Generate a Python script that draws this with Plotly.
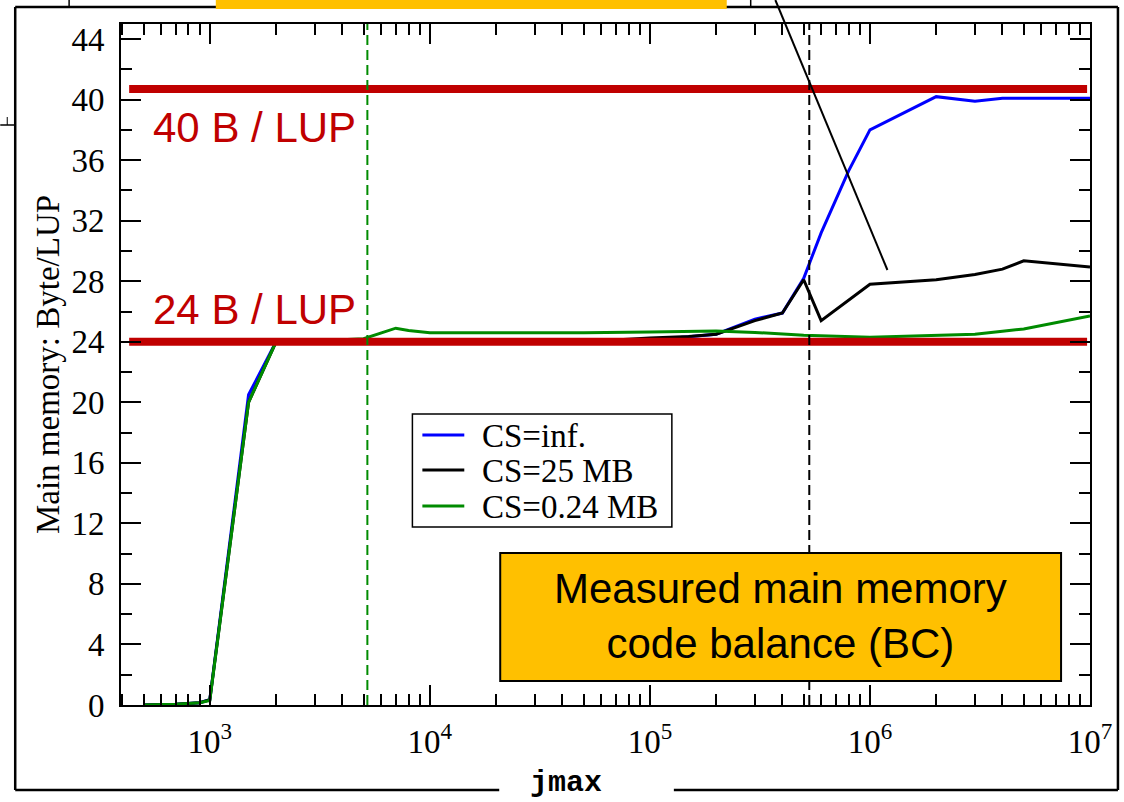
import plotly.graph_objects as go

# ---------------- data ----------------
jmax_inf = [500, 700, 900, 1000, 1500, 2000, 3000, 5000, 7000, 10000, 20000, 50000,
            100000, 200000, 300000, 400000, 500000, 600000, 800000, 1000000,
            2000000, 3000000, 4000000, 5000000, 10000000]
bc_inf = [0.0, 0.05, 0.15, 0.35, 20.5, 24.0, 24.0, 24.0, 24.0, 24.0, 24.0, 24.0,
          24.1, 24.5, 25.5, 25.9, 28.2, 31.2, 35.3, 38.0,
          40.2, 39.9, 40.1, 40.1, 40.1]

jmax_25 = [500, 700, 900, 1000, 1500, 2000, 3000, 5000, 7000, 10000, 20000, 50000,
           100000, 150000, 200000, 300000, 400000, 500000, 600000, 1000000,
           2000000, 3000000, 4000000, 5000000, 10000000]
bc_25 = [0.0, 0.05, 0.15, 0.35, 20.0, 24.0, 24.0, 24.0, 24.0, 24.0, 24.0, 24.0,
         24.25, 24.35, 24.5, 25.4, 25.9, 28.1, 25.4, 27.8,
         28.1, 28.45, 28.8, 29.35, 28.95]

jmax_024 = [500, 700, 900, 1000, 1500, 2000, 3000, 5000, 7000, 8000, 10000, 20000,
            50000, 100000, 150000, 200000, 300000, 400000, 500000, 1000000,
            2000000, 3000000, 4000000, 5000000, 10000000]
bc_024 = [0.0, 0.05, 0.15, 0.3, 20.0, 24.0, 24.05, 24.2, 24.9, 24.75, 24.6, 24.6,
          24.6, 24.65, 24.68, 24.72, 24.62, 24.52, 24.43, 24.3,
          24.4, 24.5, 24.7, 24.85, 25.7]

series_names = ["CS=inf.", "CS=25 MB", "CS=0.24 MB"]
series_colors = ["#0000FF", "#000000", "#008B00"]

limit_values = [40.7, 24.0]
limit_labels = ["40 B / LUP", "24 B / LUP"]
limit_span = [430, 9.7e6]

cache_marks = [5.2e3, 5.3e5]
cache_colors = ["#008B00", "#000000"]

x_major = [1e3, 1e4, 1e5, 1e6, 1e7]
x_major_text = ["10<sup>3</sup>", "10<sup>4</sup>", "10<sup>5</sup>", "10<sup>6</sup>", "10<sup>7</sup>"]
x_minor = [m * 10 ** k for k in range(2, 7) for m in range(2, 10) if 395 < m * 10 ** k < 1e7]
y_major = list(range(0, 45, 4))
y_minor = list(range(2, 45, 4))

box_text = "Measured main memory<br>code balance (BC)"

# ---------------- figure ----------------
fig = go.Figure()

for xs, ys, name, col in zip([jmax_inf, jmax_25, jmax_024], [bc_inf, bc_25, bc_024],
                             series_names, series_colors):
    fig.add_trace(go.Scatter(x=xs, y=ys, mode="lines", name=name, showlegend=False,
                             line=dict(color=col, width=3)))

for v in limit_values:
    fig.add_trace(go.Scatter(x=limit_span, y=[v, v], mode="lines", showlegend=False,
                             line=dict(color="#C00000", width=8), hoverinfo="skip"))

for xv, col in zip(cache_marks, cache_colors):
    fig.add_trace(go.Scatter(x=[xv, xv], y=[0, 45], mode="lines", showlegend=False,
                             line=dict(color=col, width=2, dash="10px,5px"), hoverinfo="skip"))

serif = "Liberation Serif, Times New Roman, serif"
sans = "Liberation Sans, Arial, sans-serif"

axis_common = dict(
    showline=True, linewidth=2, linecolor="black", mirror="allticks",
    ticks="inside", ticklen=20, tickwidth=1.5, tickcolor="black",
    showgrid=False, zeroline=False,
    tickfont=dict(family=serif, size=33, color="black"),
)

fig.update_xaxes(type="log", range=[2.5964, 7.0], tickmode="array",
                 tickvals=x_major, ticktext=x_major_text, ticklabelstandoff=6,
                 minor=dict(tickmode="array", tickvals=x_minor, ticks="inside", ticklen=11,
                            tickwidth=1.5, tickcolor="black", showgrid=False),
                 **axis_common)
fig.update_yaxes(range=[0, 45], tickmode="array", tickvals=y_major, ticklabelstandoff=8,
                 minor=dict(tickmode="array", tickvals=y_minor, ticks="inside", ticklen=11,
                            tickwidth=1.5, tickcolor="black", showgrid=False),
                 title=dict(text="Main memory: Byte/LUP", font=dict(family=serif, size=33, color="black"),
                            standoff=2),
                 **axis_common)

def px(xp):
    return (xp - 121) / 971.0

def py(yp):
    return (705 - yp) / 681.0

shapes = []
frame = dict(color="black", width=2.5)
# outer slide frame
shapes.append(dict(type="line", xref="paper", yref="paper", x0=px(15), x1=px(15), y0=py(790), y1=py(7), line=frame))
shapes.append(dict(type="line", xref="paper", yref="paper", x0=px(1120), x1=px(1120), y0=py(790), y1=py(7), line=frame))
shapes.append(dict(type="line", xref="paper", yref="paper", x0=px(15), x1=px(1120), y0=py(7), y1=py(7), line=frame))
shapes.append(dict(type="line", xref="paper", yref="paper", x0=px(15), x1=px(500), y0=py(790), y1=py(790), line=frame))
shapes.append(dict(type="line", xref="paper", yref="paper", x0=px(675), x1=px(1120), y0=py(790), y1=py(790), line=frame))
# small marks on the frame
shapes.append(dict(type="line", xref="paper", yref="paper", x0=px(69), x1=px(69), y0=py(0), y1=py(7), line=dict(color="black", width=1.5)))
shapes.append(dict(type="line", xref="paper", yref="paper", x0=px(752), x1=px(752), y0=py(0), y1=py(7), line=dict(color="black", width=1.5)))
shapes.append(dict(type="line", xref="paper", yref="paper", x0=px(0), x1=px(15), y0=py(125), y1=py(125), line=dict(color="black", width=1.5)))
shapes.append(dict(type="line", xref="paper", yref="paper", x0=px(7), x1=px(7), y0=py(125), y1=py(117), line=dict(color="black", width=1)))
# cut-off orange bar at top
shapes.append(dict(type="rect", xref="paper", yref="paper", x0=px(216), x1=px(728), y0=py(9), y1=py(-4),
                   fillcolor="#FFC000", line=dict(width=0)))
# diagonal pointer line
shapes.append(dict(type="line", xref="paper", yref="paper", x0=px(776.7), y0=py(0), x1=px(889), y1=py(270),
                   line=dict(color="black", width=2)))
# orange annotation box
shapes.append(dict(type="rect", xref="paper", yref="paper", x0=px(501), x1=px(1063), y0=py(681), y1=py(553),
                   fillcolor="#FFC000", line=dict(color="black", width=2)))

annotations = []
for lab, ycen in zip(limit_labels, [128, 309]):
    annotations.append(dict(text=lab, xref="paper", yref="paper", x=px(151), y=py(ycen),
                            xanchor="left", yanchor="middle", showarrow=False,
                            font=dict(family=sans, size=42, color="#C00000")))
annotations.append(dict(text=box_text, xref="paper", yref="paper", x=px(782), y=py(616),
                        xanchor="center", yanchor="middle", showarrow=False, align="center",
                        font=dict(family=sans, size=42, color="black")))
annotations.append(dict(text="jmax", xref="paper", yref="paper", x=px(567), y=py(783),
                        xanchor="center", yanchor="middle", showarrow=False, borderpad=0,
                        font=dict(family="Liberation Mono, Courier New, monospace", size=30,
                                  color="black", weight="bold")))

# legend box (drawn to match the original compact layout)
leg_left, leg_top, leg_right, leg_bottom = 413, 414, 673, 527
leg_rows = [435, 470, 506]
shapes.append(dict(type="rect", xref="paper", yref="paper", x0=px(leg_left), x1=px(leg_right),
                   y0=py(leg_bottom), y1=py(leg_top), fillcolor="white",
                   line=dict(color="black", width=1.5)))
for name, col, yr in zip(series_names, series_colors, leg_rows):
    shapes.append(dict(type="line", xref="paper", yref="paper", x0=px(423), x1=px(465),
                       y0=py(yr), y1=py(yr), line=dict(color=col, width=3)))
    annotations.append(dict(text=name, xref="paper", yref="paper", x=px(481), y=py(yr + 1),
                            xanchor="left", yanchor="middle", showarrow=False,
                            font=dict(family=serif, size=33, color="black")))

fig.update_layout(
    width=1124, height=802,
    margin=dict(l=121, r=32, t=24, b=97),
    plot_bgcolor="white", paper_bgcolor="white",
    shapes=shapes, annotations=annotations,
    showlegend=False,
)

fig.write_html("out.html", config={"displayModeBar": False},
               post_script="document.body.style.margin='0px';document.body.style.overflow='hidden';")
